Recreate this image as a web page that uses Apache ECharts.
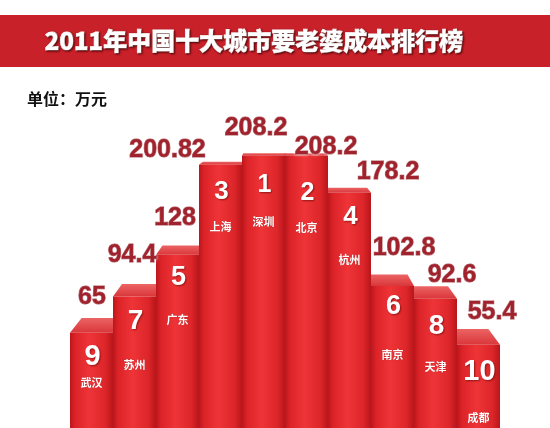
<!DOCTYPE html>
<html>
<head>
<meta charset="utf-8">
<script src="https://cdn.jsdelivr.net/npm/echarts@6/dist/echarts.min.js"></script>
<style>
  html, body { margin: 0; padding: 0; background: #fff; }
  #chart { width: 550px; height: 428px; }
</style>
</head>
<body>
<div id="chart"></div>
<script>
// Cost of getting married in China's ten biggest cities, 2011 (unit: 10k yuan)
const CITIES = ['武汉', '苏州', '广东', '上海', '深圳', '北京', '杭州', '南京', '天津', '成都'];
const COSTS  = [65, 94.4, 128, 200.82, 208.2, 208.2, 178.2, 102.8, 92.6, 55.4];
const RANKS  = [9, 7, 5, 3, 1, 2, 4, 6, 8, 10];

const TITLE = '2011年中国十大城市要老婆成本排行榜';
const UNIT = '单位：万元';

// value axis range (bars are drawn up from the axis minimum)
const AXIS_MIN = -12;
const AXIS_MAX = 250;

// per-column text placement: [value dx, value dy, rank dy, name dy], relative to the bar top
const TEXT_NUDGE = [
  [0.5, -36, 24, 50],
  [-2.5, -41, 25, 68],
  [-2.5, -37, 23, 65],
  [-53, -15, 27, 62],
  [-7.5, -28, 29, 66],
  [19.5, -9, 37, 72],
  [38.5, -21, 24, 67],
  [11.5, -38, 21, 69],
  [16.5, -24, 28, 68],
  [13.5, -33, 27, 73]
];

const chart = echarts.init(document.getElementById('chart'), null, { renderer: 'canvas' });

function renderColumn(params, api) {
  const i = params.dataIndex;
  const v = api.value(1);
  const top = api.coord([i, v]);
  const base = api.coord([i, AXIS_MIN]);
  const w = api.size([1, 0])[0];
  const cs = params.coordSys;
  const vanishX = cs.x + cs.width / 2;
  const x0 = top[0] - w / 2;
  const x1 = top[0] + w / 2;
  const dx = (vanishX - top[0]) * 0.06;
  const capH = Math.max(2, (top[1] - 120) * 0.07);
  const depth = 20 - Math.abs(i - 4.5) * 3;
  const n = TEXT_NUDGE[i];
  const rankSize = Math.round(24 + Math.abs(i - 4.5) * 1.2);

  return {
    type: 'group',
    children: [
      {
        type: 'polygon',
        z2: depth,
        shape: { points: [[x0, top[1]], [x1, top[1]], [x1 + dx, top[1] - capH], [x0 + dx, top[1] - capH]] },
        style: {
          fill: new echarts.graphic.LinearGradient(0, 0, 0, 1, [
            { offset: 0, color: '#ec6464' },
            { offset: 1, color: '#d9363a' }
          ])
        }
      },
      {
        type: 'rect',
        z2: depth + 1,
        shape: { x: x0, y: top[1], width: w, height: base[1] - top[1] },
        style: {
          fill: new echarts.graphic.LinearGradient(0, 0, 1, 0, [
            { offset: 0, color: '#bb171c' },
            { offset: 0.12, color: '#dc2328' },
            { offset: 0.45, color: '#ee3437' },
            { offset: 0.82, color: '#dd262a' },
            { offset: 1, color: '#b8161b' }
          ])
        }
      },
      {
        type: 'text',
        z2: 100,
        x: top[0] + n[0],
        y: top[1] + n[1],
        style: {
          text: String(v),
          font: 'bold 25px "Liberation Sans", Arial, sans-serif',
          fill: '#a0222c',
          stroke: '#8e1b24',
          lineWidth: 1,
          align: 'center',
          verticalAlign: 'middle',
          textShadowColor: 'rgba(255,255,255,0.9)',
          textShadowBlur: 3
        }
      },
      {
        type: 'text',
        z2: 100,
        x: top[0] + 1,
        y: top[1] + n[2],
        style: {
          text: String(RANKS[i]),
          font: 'bold ' + rankSize + 'px "Liberation Sans", Arial, sans-serif',
          fill: '#ffffff',
          align: 'center',
          verticalAlign: 'middle',
          textShadowColor: 'rgba(90,0,0,0.6)',
          textShadowBlur: 2,
          textShadowOffsetX: 1,
          textShadowOffsetY: 1
        }
      },
      {
        type: 'text',
        z2: 100,
        x: top[0],
        y: top[1] + n[3],
        style: {
          text: CITIES[i],
          font: 'bold 11px "Noto Sans CJK SC", sans-serif',
          fill: '#ffffff',
          align: 'center',
          verticalAlign: 'middle',
          textShadowColor: 'rgba(90,0,0,0.5)',
          textShadowBlur: 1
        }
      }
    ]
  };
}

chart.setOption({
  backgroundColor: '#ffffff',
  animation: false,
  grid: { left: 70, right: 50, top: 104, bottom: 0 },
  xAxis: { type: 'category', data: CITIES, show: false, boundaryGap: true },
  yAxis: { type: 'value', min: AXIS_MIN, max: AXIS_MAX, show: false, splitLine: { show: false } },
  graphic: [
    {
      type: 'rect',
      left: 0, top: 15,
      shape: { width: 550, height: 52 },
      style: { fill: '#c9212a' }
    },
    {
      type: 'text',
      x: 254, y: 41,
      style: {
        text: TITLE,
        font: '900 24px "Noto Sans CJK SC", sans-serif',
        fill: '#ffffff',
        stroke: '#ffffff',
        lineWidth: 0.8,
        align: 'center',
        verticalAlign: 'middle',
        textShadowColor: 'rgba(60,0,0,0.8)',
        textShadowBlur: 2,
        textShadowOffsetX: 1,
        textShadowOffsetY: 1
      }
    },
    {
      type: 'text',
      x: 27, y: 99,
      style: {
        text: UNIT,
        font: 'bold 16px "Noto Sans CJK SC", sans-serif',
        fill: '#111111',
        align: 'left',
        verticalAlign: 'middle'
      }
    }
  ],
  series: [{
    type: 'custom',
    renderItem: renderColumn,
    data: COSTS.map((c, i) => [i, c]),
    encode: { x: 0, y: 1 }
  }]
});
</script>
</body>
</html>
